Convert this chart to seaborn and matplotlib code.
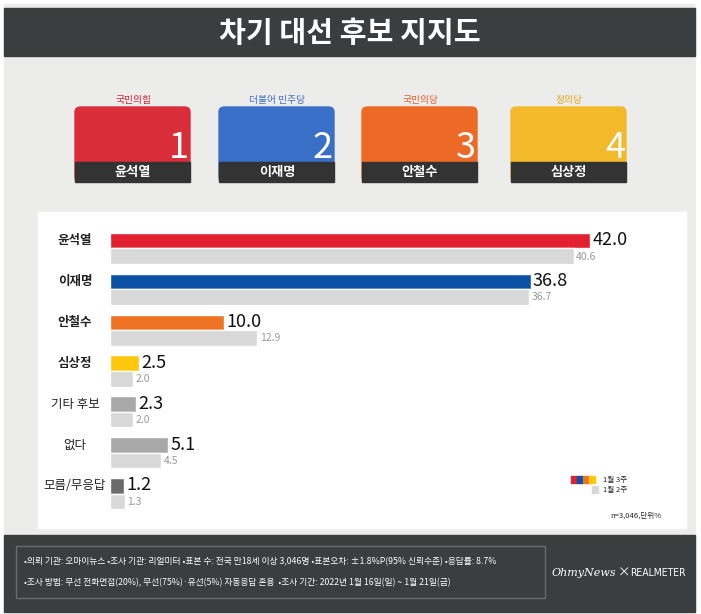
import pandas as pd
import seaborn as sns
import matplotlib.pyplot as plt
from matplotlib.patches import FancyBboxPatch, Rectangle

W, H = 701, 614

labels = ['윤석열', '이재명', '안철수', '심상정', '기타 후보', '없다', '모름/무응답']
week3 = [42.0, 36.8, 10.0, 2.5, 2.3, 5.1, 1.2]
week2 = [40.6, 36.7, 12.9, 2.0, 2.0, 4.5, 1.3]
bar_colors = ['#E3202F', '#0B52A6', '#EE7424', '#FFC80F', '#A8A8A8', '#A8A8A8', '#6B6B6B']
prev_color = '#D8D8D8'

candidates = ['윤석열', '이재명', '안철수', '심상정']
parties = ['국민의힘', '더불어 민주당', '국민의당', '정의당']
party_colors = ['#D0243A', '#3E6FC1', '#E8602A', '#E0A91E']
card_colors = ['#D92E3A', '#3A6FC8', '#EC6A25', '#F2B92A']

sns.set_theme(style="white")
plt.rcParams['font.family'] = ['Noto Sans CJK KR', 'DejaVu Sans']

fig = plt.figure(figsize=(W / 100, H / 100), dpi=100)
fig.patch.set_facecolor('white')


def px(x, y):
    return x / W, 1 - y / H


def rect(x0, y0, x1, y1, **kw):
    fig.add_artist(Rectangle(px(x0, y1), (x1 - x0) / W, (y1 - y0) / H,
                             transform=fig.transFigure, **kw))


# background, header, panel, footer
rect(4, 4, 695, 612, color='#ECECEA', zorder=0)
rect(4, 8, 695, 56, color='#3C3D3F', zorder=1)
fig.text(*px(350, 33), '차기 대선 후보 지지도', color='white', fontsize=21,
         fontweight='bold', ha='center', va='center')
rect(38, 212, 686, 528, color='white', zorder=1)
rect(4, 535, 695, 612, color='#3C3D3F', zorder=1)
rect(16, 546, 545, 598, facecolor='none', edgecolor='#6A6B6D', lw=1, zorder=2)
fig.text(*px(24, 562), '•의뢰 기관: 오마이뉴스 •조사 기관: 리얼미터 •표본 수: 전국 만18세 이상 3,046명 •표본오차: ±1.8%P(95% 신뢰수준) •응답률: 8.7%',
         color='white', fontsize=6.3, va='center')
fig.text(*px(24, 583), '•조사 방법: 무선 전화면접(20%), 무선(75%)·유선(5%) 자동응답 혼용  •조사 기간: 2022년 1월 16일(일) ~ 1월 21일(금)',
         color='white', fontsize=6.3, va='center')
fig.text(*px(552, 573), 'OhmyNews', color='white', fontsize=8, style='italic',
         family=['DejaVu Serif'], va='center')
fig.text(*px(618, 573), '×', color='white', fontsize=9, va='center')
fig.text(*px(630, 573), 'REALMETER', color='white', fontsize=7.5, va='center',
         family=['DejaVu Sans'], fontstretch='condensed')

# candidate cards
card_x = [75, 219, 362, 511]
for i, x0 in enumerate(card_x):
    fig.text(*px(x0 + 58, 100), parties[i], color=party_colors[i], fontsize=7,
             ha='center', va='center')
    fig.add_artist(FancyBboxPatch(px(x0, 182), 115 / W, 75 / H,
                                  boxstyle='round,pad=0,rounding_size=0.008',
                                  transform=fig.transFigure, color=card_colors[i], zorder=2))
    rect(x0, 162, x0 + 115, 182, color='#333333', zorder=3)
    fig.text(*px(x0 + 58, 172), candidates[i], color='white', fontsize=9.5,
             fontweight='bold', ha='center', va='center', zorder=4)
    fig.text(*px(x0 + 104, 148), str(i + 1), color='white', fontsize=26,
             ha='center', va='center', zorder=4)

# bars
df = pd.DataFrame({
    'label': labels * 2,
    'value': week3 + week2,
    'week': ['1월 3주'] * 7 + ['1월 2주'] * 7,
})
ax = fig.add_axes([110 / W, 1 - 514 / H, 576 / W, 286 / H])
ax.set_zorder(5)
ax.patch.set_alpha(0)
sns.barplot(data=df, y='label', x='value', hue='week', order=labels,
            hue_order=['1월 3주', '1월 2주'], orient='h', width=0.76,
            ax=ax, legend=False, saturation=1)
for i, p in enumerate(ax.patches[:7]):
    p.set_facecolor(bar_colors[i])
for p in ax.patches[7:14]:
    p.set_facecolor(prev_color)
ax.set_xlim(0, 50.4)
ax.set_ylim(6.5, -0.5)
ax.axis('off')
for i in range(7):
    ax.text(week3[i] + 0.2, i - 0.2, f'{week3[i]:.1f}', fontsize=13, va='center', color='#111111')
    ax.text(week2[i] + 0.2, i + 0.2, f'{week2[i]:.1f}', fontsize=7.5, va='center', color='#999999')
    fig.text(*px(75, 241 + i * 40.8), labels[i], fontsize=9,
             fontweight='bold' if i < 4 else 'normal', ha='center', va='center', color='#222222')

# legend
for j, c in enumerate(['#E3202F', '#0B52A6', '#EE7424', '#FFC80F']):
    rect(571 + j * 6, 476, 577 + j * 6, 483, color=c, zorder=3)
rect(592, 486, 598, 493, color=prev_color, zorder=3)
fig.text(*px(603, 480), '1월 3주', fontsize=5.5, va='center')
fig.text(*px(603, 490), '1월 2주', fontsize=5.5, va='center')
fig.text(*px(636, 516), 'n=3,046,단위%', fontsize=5.5, va='center', ha='center')

fig.savefig('out.png', dpi=100)
